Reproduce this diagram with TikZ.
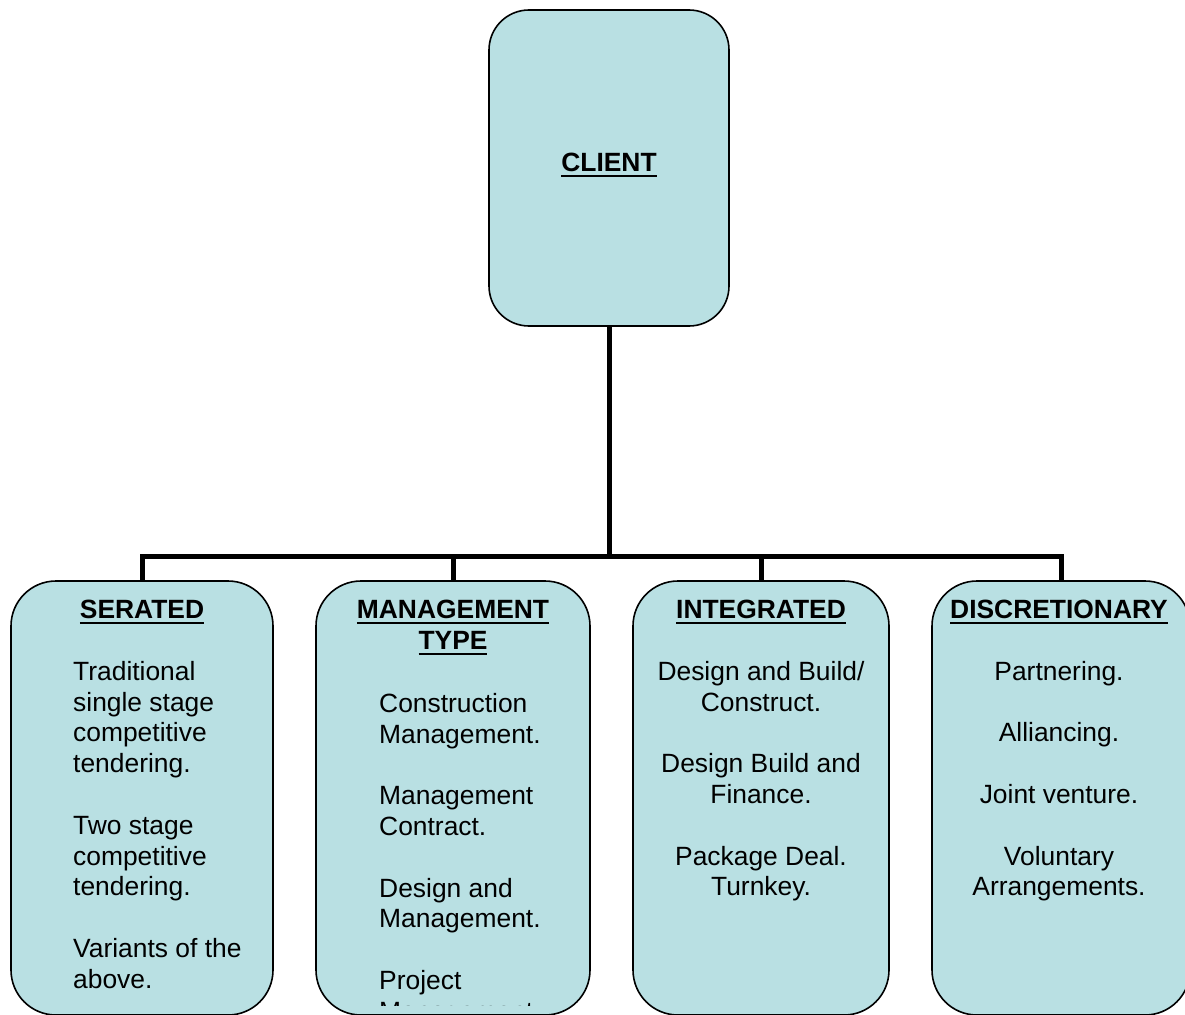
\documentclass[tikz,border=0pt]{standalone}
\usepackage{fontspec}
\setmainfont{Liberation Sans}
\usepackage{tikz}
\usetikzlibrary{calc}
\definecolor{boxblue}{RGB}{185,224,227}
\newcommand{\headul}[1]{\setbox0\hbox{\bfseries #1}\rlap{\vrule height -3.5pt depth 6pt width \wd0}\box0}

\begin{document}
\begin{tikzpicture}[x=1pt, y=-1pt,
    box/.style={draw, line width=1.6pt, fill=boxblue, rounded corners=45pt, inner sep=0pt},
    link/.style={line width=5pt},
    txt/.style={inner sep=0pt, font=\fontsize{26.4}{30.8}\selectfont}]
    \clip (0,0) rectangle (1185,1014);
    % top box
    \node[box, minimum width=240pt, minimum height=316pt, rounded corners=40pt] (client) at (609,168) {};
    \node[txt, anchor=base] (clienthead) at (609,171) {\headul{CLIENT}};
    % the four groups
    \node[box, minimum width=262pt, minimum height=434pt] (serated) at (142,798) {};
    \node[box, minimum width=274pt, minimum height=434pt] (mgmt) at (453,798) {};
    \node[box, minimum width=256pt, minimum height=434pt] (integ) at (761,798) {};
    \node[box, minimum width=258pt, minimum height=434pt] (discr) at (1061,798) {};
    % tree lines
    \coordinate (bus) at (609,556);
    \draw[link] (client.south) -- (bus);
    \draw[link] (serated.north) -- (serated.north |- bus) -- (discr.north |- bus) -- (discr.north);
    \draw[link] (mgmt.north) -- (mgmt.north |- bus);
    \draw[link] (integ.north) -- (integ.north |- bus);
    % headings
    \node[txt, anchor=base] (serhead) at (142,618) {\headul{SERATED}};
    \node[txt, anchor=base] (mgmthead) at (453,618) {\headul{MANAGEMENT}};
    \node[txt, anchor=base] (mgmthead2) at (453,649) {\headul{TYPE}};
    \node[txt, anchor=base] (integhead) at (761,618) {\headul{INTEGRATED}};
    \node[txt, anchor=base] (discrhead) at (1059,618) {\headul{DISCRETIONARY}};
    % lists
    \node[txt, anchor=north west, align=left] (serlist) at (73,661)
      {Traditional\\single stage\\competitive\\tendering.\\[30.8pt]Two stage\\competitive\\tendering.\\[30.8pt]Variants of the\\above.};
    \begin{scope}
      \clip (316,581) rectangle (590,1005);
      \node[txt, anchor=north west, align=left] (mgmtlist) at (379,693)
        {Construction\\Management.\\[30.8pt]Management\\Contract.\\[30.8pt]Design and\\Management.\\[30.8pt]Project\\Management.};
    \end{scope}
    \node[txt, anchor=north, align=center] (integlist) at (761,661)
      {Design and Build/\\Construct.\\[30.8pt]Design Build and\\Finance.\\[30.8pt]Package Deal.\\Turnkey.};
    \node[txt, anchor=north, align=center] (discrlist) at (1059,661)
      {Partnering.\\[30.8pt]Alliancing.\\[30.8pt]Joint venture.\\[30.8pt]Voluntary\\Arrangements.};
\end{tikzpicture}
\end{document}
